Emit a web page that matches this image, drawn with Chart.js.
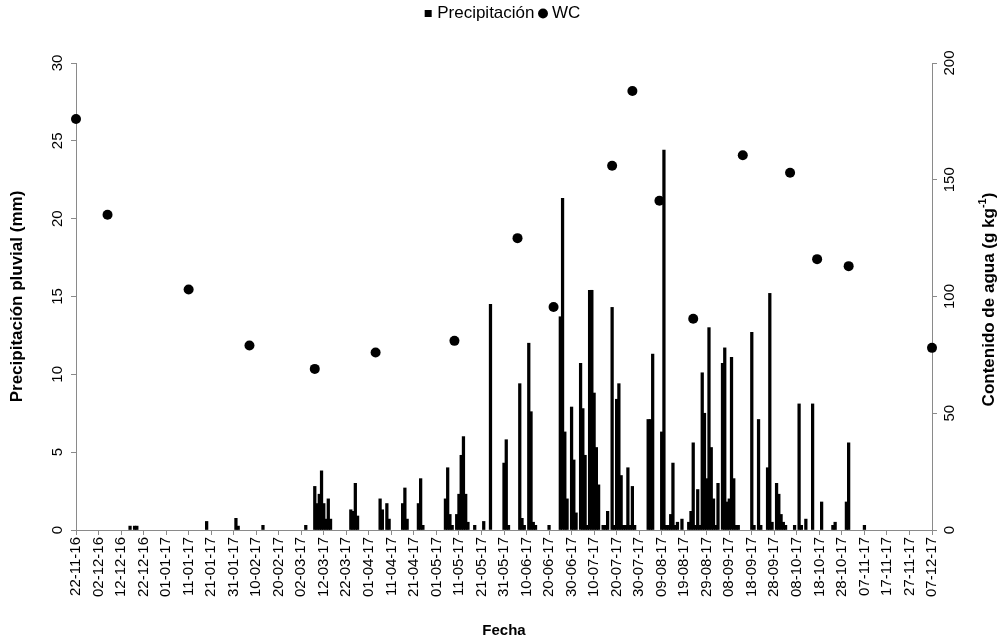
<!DOCTYPE html>
<html>
<head>
<meta charset="utf-8">
<script src="https://cdn.jsdelivr.net/npm/chart.js@4.4.1/dist/chart.umd.min.js"></script>
<style>
  html, body { margin: 0; padding: 0; background: #fff; }
  #wrap { width: 1008px; height: 640px; }
</style>
</head>
<body>
<div id="wrap"><canvas id="chart" width="1008" height="640"></canvas></div>
<script>
// x axis: days counted from 22-11-16, one label every 10 days
const DATE_LABELS = [
    '22-11-16', '02-12-16', '12-12-16', '22-12-16', '01-01-17', '11-01-17', '21-01-17', '31-01-17',
    '10-02-17', '20-02-17', '02-03-17', '12-03-17', '22-03-17', '01-04-17', '11-04-17', '21-04-17',
    '01-05-17', '11-05-17', '21-05-17', '31-05-17', '10-06-17', '20-06-17', '30-06-17', '10-07-17',
    '20-07-17', '30-07-17', '09-08-17', '19-08-17', '29-08-17', '08-09-17', '18-09-17', '28-09-17',
    '08-10-17', '18-10-17', '28-10-17', '07-11-17', '17-11-17', '27-11-17', '07-12-17'
];
const LAST_DAY = 380;

// daily rainfall (mm)
const PRECIP_DAY = [
    24, 26, 27, 58, 71, 72, 83, 102,
    106, 107, 108, 109, 110, 111, 112, 113,
    122, 123, 124, 125,
    135, 136, 138, 139,
    145, 146, 147,
    152, 153, 154,
    164, 165, 166, 167,
    169, 170, 171, 172, 173, 174,
    177, 181, 184,
    190, 191, 192,
    197, 198, 199,
    201, 202, 203, 204,
    210,
    215, 216, 217, 218, 220, 221, 222,
    224, 225, 226, 227, 228, 229, 230, 231, 232,
    234, 235, 236, 238, 239, 240, 241, 242, 243, 244, 245, 246, 247, 248,
    254, 255, 256,
    260, 261, 262, 263, 264, 265, 266, 267, 269,
    272, 273, 274, 275, 276, 277, 278, 279, 280, 281, 282, 283, 284, 285,
    287, 288, 289, 290, 291, 292, 293, 294,
    300, 301, 303, 304,
    307, 308, 309, 311, 312, 313, 314, 315,
    319, 321, 322, 324, 327, 331,
    336, 337, 342, 343, 350
];
const PRECIP_MM = [
    0.25, 0.25, 0.25, 0.55, 0.75, 0.25, 0.3, 0.3,
    2.8, 1.7, 2.3, 3.8, 1.7, 0.7, 2.0, 0.7,
    1.3, 1.2, 3.0, 0.9,
    2.0, 1.3, 1.7, 0.7,
    1.7, 2.7, 0.7,
    1.7, 3.3, 0.3,
    2.0, 4.0, 1.0, 0.3,
    1.0, 2.3, 4.8, 6.0, 2.3, 0.5,
    0.3, 0.55, 14.5,
    4.3, 5.8, 0.3,
    9.4, 0.75, 0.3,
    12.0, 7.6, 0.5, 0.3,
    0.3,
    13.7, 21.3, 6.3, 2.0, 7.9, 4.5, 1.1,
    10.7, 7.8, 4.8, 0.3, 15.4, 15.4, 8.8, 5.3, 2.9,
    0.3, 0.3, 1.2, 14.3, 0.3, 8.4, 9.4, 3.5, 0.3, 0.3, 4.0, 0.3, 2.8, 0.3,
    7.1, 7.1, 11.3,
    6.3, 24.4, 0.3, 0.3, 1.0, 4.3, 0.3, 0.5, 0.7,
    0.5, 1.2, 5.6, 0.3, 2.6, 0.3, 10.1, 7.5, 3.3, 13.0, 5.3, 2.0, 0.3, 3.0,
    10.7, 11.7, 1.8, 2.0, 11.1, 3.3, 0.3, 0.3,
    12.7, 0.3, 7.1, 0.3,
    4.0, 15.2, 0.5, 3.0, 2.3, 1.0, 0.5, 0.3,
    0.3, 8.1, 0.3, 0.7, 8.1, 1.8,
    0.3, 0.5, 1.8, 5.6, 0.3
];

// soil water content (g kg-1)
const WC_DAY = [0, 14, 50, 77, 106, 133, 168, 196, 212, 238, 247, 259, 274, 296, 317, 329, 343, 380];
const WC_VALUE = [176, 135, 103, 79, 69, 76, 81, 125, 95.5, 156, 188, 141, 90.5, 160.5, 153, 116, 113, 78];

const FONT = '"Liberation Sans", Arial, sans-serif';
const AXIS_GREY = '#8a8a8a';
const PAD_TOP = -3;

function pairs(xs, ys) {
    return xs.map((x, i) => ({ x: x, y: ys[i] }));
}

// chart area has to start lower than the legend alone would allow
const legendGap = {
    id: 'legendGap',
    beforeLayout(chart) {
        const legend = chart.legend;
        if (!legend || legend._gapPatched) return;
        const fit = legend.fit;
        legend.fit = function () {
            fit.call(this);
            this.height = 63 - PAD_TOP;
        };
        legend._gapPatched = true;
    }
};

// vertical scales in Chart.js cannot rotate their labels, so draw them here
const rotatedAxisText = {
    id: 'rotatedAxisText',
    afterDraw(chart) {
        const ctx = chart.ctx;
        const area = chart.chartArea;
        ctx.save();
        ctx.fillStyle = '#000';
        ctx.textAlign = 'center';
        ctx.textBaseline = 'middle';
        ctx.font = '15px ' + FONT;
        [['y', area.left - 18], ['y1', area.right + 18]].forEach(([id, x]) => {
            const scale = chart.scales[id];
            scale.ticks.forEach(t => {
                ctx.save();
                ctx.translate(x, scale.getPixelForValue(t.value));
                ctx.rotate(-Math.PI / 2);
                ctx.fillText(String(t.value), 0, 0);
                ctx.restore();
            });
        });

        // right title with superscript
        const main = 'Contenido de agua (g kg';
        const sup = '-1';
        const tail = ')';
        ctx.font = 'bold 17px ' + FONT;
        const w1 = ctx.measureText(main).width;
        const w3 = ctx.measureText(tail).width;
        ctx.font = 'bold 11px ' + FONT;
        const w2 = ctx.measureText(sup).width;
        const total = w1 + w2 + w3;
        ctx.translate(989, (area.top + area.bottom) / 2 + 3);
        ctx.rotate(-Math.PI / 2);
        ctx.textAlign = 'left';
        ctx.font = 'bold 17px ' + FONT;
        ctx.fillText(main, -total / 2, 0);
        ctx.font = 'bold 11px ' + FONT;
        ctx.fillText(sup, -total / 2 + w1, -6);
        ctx.font = 'bold 17px ' + FONT;
        ctx.fillText(tail, -total / 2 + w1 + w2, 0);
        ctx.restore();
    }
};

new Chart(document.getElementById('chart'), {
    type: 'bar',
    data: {
        datasets: [
            {
                label: 'Precipitación',
                data: pairs(PRECIP_DAY, PRECIP_MM),
                backgroundColor: '#000',
                borderWidth: 0,
                barThickness: 2.6,
                pointStyle: 'rect',
                yAxisID: 'y',
                order: 0
            },
            {
                type: 'line',
                label: 'WC',
                data: pairs(WC_DAY, WC_VALUE),
                showLine: false,
                backgroundColor: '#000',
                borderColor: '#000',
                borderWidth: 0,
                pointRadius: 5,
                pointBackgroundColor: '#000',
                pointBorderWidth: 0,
                pointStyle: 'circle',
                clip: false,
                yAxisID: 'y1',
                order: 1
            }
        ]
    },
    options: {
        responsive: false,
        animation: false,
        devicePixelRatio: 1,
        events: [],
        layout: { padding: { top: PAD_TOP } },
        plugins: {
            tooltip: { enabled: false },
            legend: {
                position: 'top',
                labels: {
                    usePointStyle: true,
                    boxWidth: 1,
                    boxHeight: 7,
                    padding: 8,
                    color: '#000',
                    font: { family: FONT, size: 17 }
                }
            }
        },
        scales: {
            x: {
                type: 'linear',
                min: 0,
                max: LAST_DAY,
                offset: false,
                grid: { offset: false, drawOnChartArea: false, color: AXIS_GREY, tickLength: 5 },
                border: { color: AXIS_GREY },
                ticks: {
                    stepSize: 10,
                    maxTicksLimit: 40,
                    autoSkip: false,
                    minRotation: 90,
                    maxRotation: 90,
                    padding: 2,
                    color: '#000',
                    font: { family: FONT, size: 15 },
                    callback: v => DATE_LABELS[Math.round(v / 10)]
                },
                title: {
                    display: true,
                    text: 'Fecha',
                    color: '#000',
                    font: { family: FONT, size: 15, weight: 'bold' },
                    padding: { top: 0, bottom: 0 }
                },
                afterFit: s => { s.height = 110; }
            },
            y: {
                position: 'left',
                min: 0,
                max: 30,
                grid: { drawOnChartArea: false, color: AXIS_GREY, tickLength: 5 },
                border: { color: AXIS_GREY },
                ticks: { stepSize: 5, display: false },
                title: {
                    display: true,
                    text: 'Precipitación pluvial (mm)',
                    color: '#000',
                    font: { family: FONT, size: 17, weight: 'bold' },
                    padding: { top: 7, bottom: 0 }
                },
                afterFit: s => { s.width = 76; }
            },
            y1: {
                position: 'right',
                min: 0,
                max: 200,
                grid: { drawOnChartArea: false, color: AXIS_GREY, tickLength: 5 },
                border: { color: AXIS_GREY },
                ticks: { stepSize: 50, display: false },
                afterFit: s => { s.width = 76; }
            }
        }
    },
    plugins: [legendGap, rotatedAxisText]
});
</script>
</body>
</html>
